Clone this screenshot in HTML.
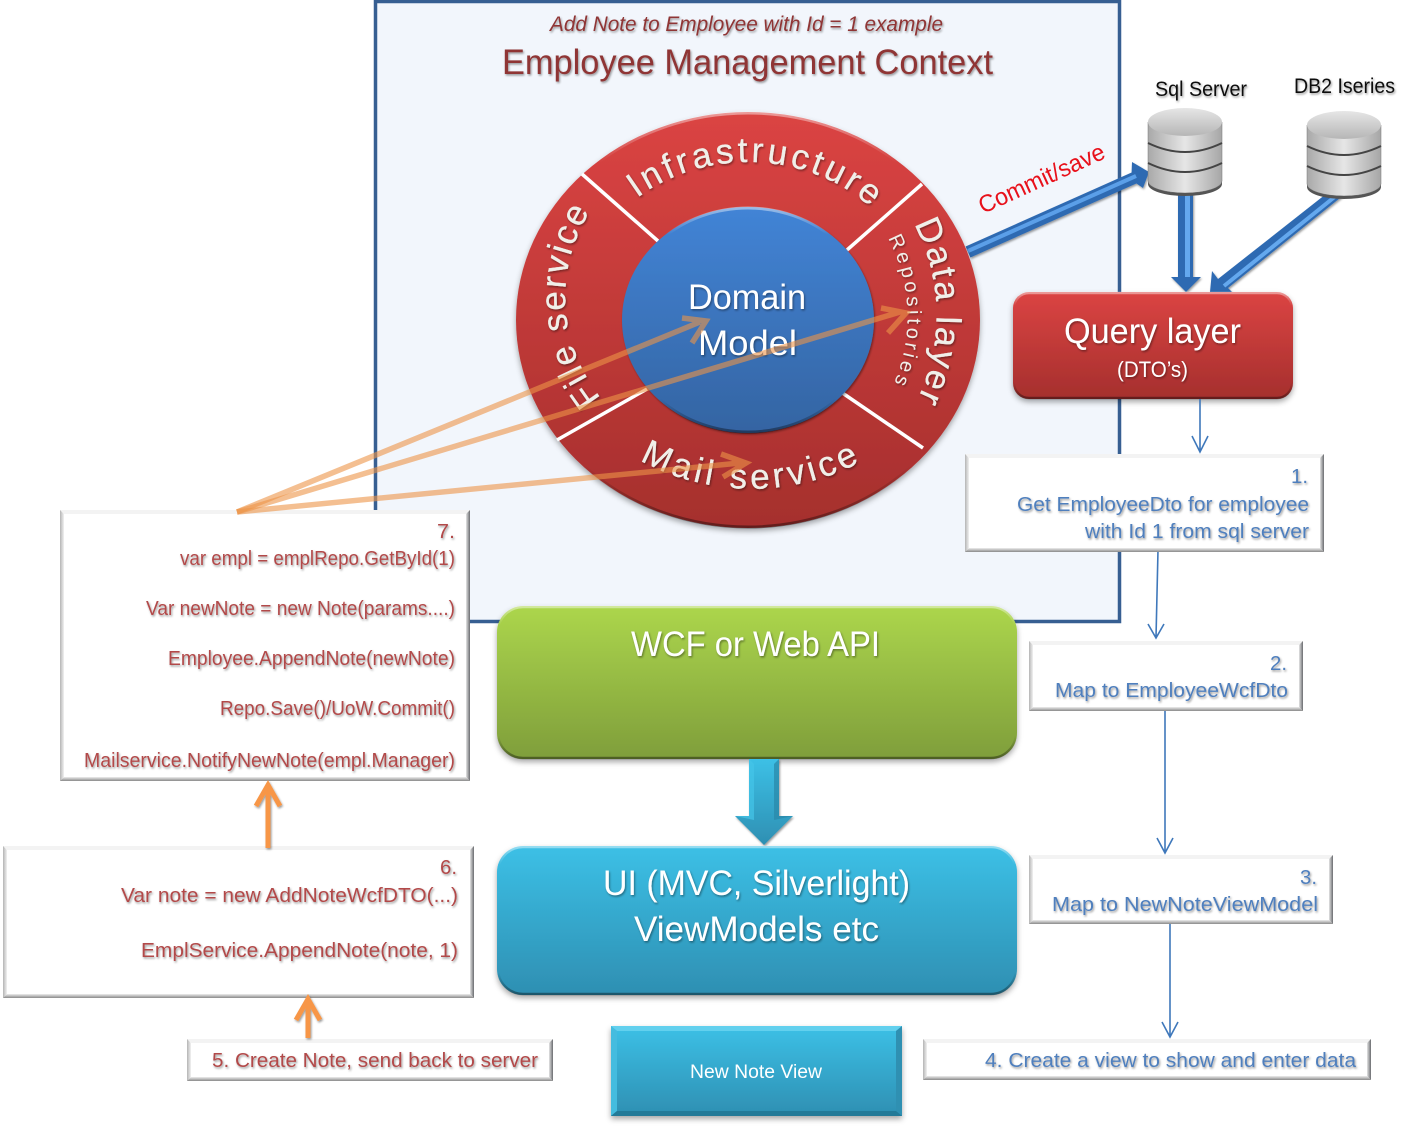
<!DOCTYPE html>
<html><head><meta charset="utf-8"><style>
html,body{margin:0;padding:0;background:#fff}
svg{display:block}
text{font-family:"Liberation Sans",sans-serif}
.r{fill:#b24a4a;font-size:20px}
.b{fill:#4f7fbd;font-size:20px}
.w{fill:#fff}
.t{fill:#8f3535}
.k{fill:#111;font-size:21px}
.bt{fill:#f3f3f3}.bl{fill:url(#gl)}.br{fill:url(#gr)}.bb{fill:url(#gb)}
.c{fill:#f0efe9;font-size:35px;stroke:#f0efe9;stroke-width:.3}
</style></head><body>
<svg width="1420" height="1128" viewBox="0 0 1420 1128" xmlns="http://www.w3.org/2000/svg">
<defs>
<linearGradient id="red" x1="0" y1="0" x2="0" y2="1"><stop offset="0" stop-color="#db4443"/><stop offset="1" stop-color="#a52f2d"/></linearGradient>
<linearGradient id="blue" x1="0" y1="0" x2="0" y2="1"><stop offset="0" stop-color="#4284d6"/><stop offset="1" stop-color="#3464a2"/></linearGradient>
<linearGradient id="green" x1="0" y1="0" x2="0" y2="1"><stop offset="0" stop-color="#acd64c"/><stop offset="1" stop-color="#7f9e3b"/></linearGradient>
<linearGradient id="cy" x1="0" y1="0" x2="0" y2="1"><stop offset="0" stop-color="#3cc0e6"/><stop offset="1" stop-color="#2e8fb2"/></linearGradient>
<linearGradient id="dbb" x1="0" y1="0" x2="1" y2="0"><stop offset="0" stop-color="#a9a9a9"/><stop offset=".5" stop-color="#e6e6e6"/><stop offset="1" stop-color="#a6a6a6"/></linearGradient>
<linearGradient id="dbt" x1="0" y1="0" x2="0" y2="1"><stop offset="0" stop-color="#e6e6e6"/><stop offset="1" stop-color="#b6b6b6"/></linearGradient>
<linearGradient id="gl" x1="0" y1="0" x2="1" y2="0"><stop offset="0" stop-color="#b4b4b4"/><stop offset="1" stop-color="#f2f2f2"/></linearGradient>
<linearGradient id="gr" x1="0" y1="0" x2="1" y2="0"><stop offset="0" stop-color="#e4e4e4"/><stop offset="1" stop-color="#6a6c70"/></linearGradient>
<linearGradient id="gb" x1="0" y1="0" x2="0" y2="1"><stop offset="0" stop-color="#eeeeee"/><stop offset="1" stop-color="#8a8a8a"/></linearGradient>
<linearGradient id="rim" x1="0" y1="0" x2="0" y2="1"><stop offset="0" stop-color="#fff" stop-opacity=".45"/><stop offset=".12" stop-color="#fff" stop-opacity="0"/><stop offset=".85" stop-color="#000" stop-opacity="0"/><stop offset="1" stop-color="#000" stop-opacity=".4"/></linearGradient>
<filter id="s" x="-10%" y="-30%" width="120%" height="170%"><feDropShadow dx="1" dy="1.5" stdDeviation="1" flood-color="#000" flood-opacity=".4"/></filter>
<filter id="sb" x="-10%" y="-10%" width="120%" height="125%"><feDropShadow dx="0" dy="3" stdDeviation="3" flood-color="#000" flood-opacity=".35"/></filter>
<g id="db">
<path d="M0 14V73A37 12 0 0 0 74 73V14Z" fill="url(#dbb)" stroke="#777" stroke-width=".5"/>
<path d="M0 73A37 12 0 0 0 74 73L74 76A37 12 0 0 1 0 76Z" fill="#555"/>
<ellipse cx="37" cy="14" rx="37" ry="14" fill="url(#dbt)"/>
<path d="M0 35Q37 53 74 35M0 55Q37 73 74 55" fill="none" stroke="#444" stroke-width="2"/>
</g>
<path id="pI" d="M637 198A175 158 0 0 1 892 230"/>
<path id="pD" d="M914 224A195 195 0 0 1 906 420"/>
<path id="pR" d="M888 238A160 165 0 0 1 890 392"/>
<path id="pM" d="M640 460A201 170 0 0 0 872 455"/>
<path id="pF" d="M601 398A160 160 0 0 1 598 200"/>
</defs>
<rect width="1420" height="1128" fill="#fff"/>

<!-- context -->
<rect x="375.5" y="1.5" width="744" height="620" fill="#f2f6fc" stroke="#375f92" stroke-width="3.5"/>
<text class="t" x="550" y="31" font-size="21" font-style="italic" textLength="393" lengthAdjust="spacingAndGlyphs" filter="url(#s)">Add Note to Employee with Id = 1 example</text>
<text class="t" x="502" y="74" font-size="35" textLength="491" lengthAdjust="spacingAndGlyphs" filter="url(#s)">Employee Management Context</text>

<!-- thick blue arrows -->
<g>
<path d="M965.6 246.5L1131.6 172.5 1132 162 1149 172 1143 188 1136.4 183.5 970.4 257.5Z" fill="#2f6bb2" filter="url(#s)"/>
<path d="M968 251L1136 176" stroke="#5b9fe8" stroke-width="4" fill="none"/>
<path d="M1178 193H1193V277H1201L1186 292 1171 277H1178Z" fill="#2f6bb2" filter="url(#s)"/>
<rect x="1185" y="193" width="5" height="84" fill="#64a8ee"/>
<path d="M1326 194H1345L1228 288 1232 292H1210L1212 271 1218 279Z" fill="#2f6bb2" filter="url(#s)"/>
<path d="M1337 195L1224 286" stroke="#64a8ee" stroke-width="4" fill="none"/>
</g>

<!-- ring -->
<ellipse cx="748" cy="320" rx="232" ry="208" fill="url(#red)" filter="url(#sb)"/>
<ellipse cx="748" cy="320" rx="231" ry="207" fill="none" stroke="url(#rim)" stroke-width="3"/>
<path d="M582 174L658 241M922 184L847 250M557 440L647 389M923 448L841 392" stroke="#fff" stroke-width="3.5"/>
<ellipse cx="748" cy="320" rx="126" ry="113" fill="url(#blue)" filter="url(#s)"/>
<ellipse cx="748" cy="320" rx="125" ry="112" fill="none" stroke="url(#rim)" stroke-width="3"/>
<text class="c" letter-spacing="3.5" filter="url(#s)"><textPath href="#pI">Infrastructure</textPath></text>
<text class="c" letter-spacing="2.4" filter="url(#s)"><textPath href="#pD">Data layer</textPath></text>
<text class="c" style="font-size:20px;stroke-width:0" letter-spacing="3.5" filter="url(#s)"><textPath href="#pR">Repositories</textPath></text>
<text class="c" letter-spacing="4" filter="url(#s)"><textPath href="#pM">Mail service</textPath></text>
<text class="c" letter-spacing="2" filter="url(#s)"><textPath href="#pF">File service</textPath></text>
<text class="w" x="688" y="309" font-size="35" textLength="118" lengthAdjust="spacingAndGlyphs" filter="url(#s)">Domain</text>
<text class="w" x="698" y="355" font-size="35" textLength="99" lengthAdjust="spacingAndGlyphs" filter="url(#s)">Model</text>

<!-- commit -->
<text transform="translate(983 214) rotate(-24.5)" fill="#e8101a" font-size="24" textLength="136" lengthAdjust="spacingAndGlyphs">Commit/save</text>

<!-- DBs -->
<use href="#db" x="1148" y="108"/>
<use href="#db" x="1307" y="111"/>
<text class="k" x="1155" y="96" textLength="92" lengthAdjust="spacingAndGlyphs" filter="url(#s)">Sql Server</text>
<text class="k" x="1294" y="93" textLength="101" lengthAdjust="spacingAndGlyphs" filter="url(#s)">DB2 Iseries</text>

<!-- query -->
<rect x="1013" y="292" width="280" height="107" rx="16" fill="url(#red)" filter="url(#sb)"/>
<rect x="1014" y="293" width="278" height="105" rx="15" fill="none" stroke="url(#rim)" stroke-width="2.5"/>
<text class="w" x="1064" y="343" font-size="35" textLength="177" lengthAdjust="spacingAndGlyphs" filter="url(#s)">Query layer</text>
<text class="w" x="1117" y="377" font-size="22" textLength="71" lengthAdjust="spacingAndGlyphs" filter="url(#s)">(DTO’s)</text>

<!-- thin arrows -->
<g fill="none" stroke="#3f78bb" stroke-width="1.6">
<path d="M1200 399V452M1192 436L1200 452 1208 436"/>
<path d="M1158 550L1156 638M1148 624L1156 638 1164 624"/>
<path d="M1165 711V853M1157 838L1165 853 1173 838"/>
<path d="M1170 924V1037M1162 1022L1170 1037 1178 1022"/>
</g>

<!-- WCF / UI -->
<rect x="497" y="606" width="520" height="153" rx="26" fill="url(#green)" filter="url(#sb)"/>
<rect x="498" y="607" width="518" height="151" rx="25" fill="none" stroke="url(#rim)" stroke-width="2.5"/>
<text class="w" x="631" y="656" font-size="35" textLength="249" lengthAdjust="spacingAndGlyphs" filter="url(#s)">WCF or Web API</text>
<path d="M749 759H779V816H793L764 845 735 816H749Z" fill="url(#cy)" filter="url(#s)"/>
<path d="M749 759L754 764V820L735 816H749Z" fill="#45c4e8" opacity=".7"/>
<path d="M779 759L774 764V820L793 816H779Z" fill="#2a88a8" opacity=".7"/>
<rect x="497" y="846" width="520" height="149" rx="26" fill="url(#cy)" filter="url(#sb)"/>
<rect x="498" y="847" width="518" height="147" rx="25" fill="none" stroke="url(#rim)" stroke-width="2.5"/>
<text class="w" x="603" y="895" font-size="35" textLength="307" lengthAdjust="spacingAndGlyphs" filter="url(#s)">UI (MVC, Silverlight)</text>
<text class="w" x="634" y="941" font-size="35" textLength="245" lengthAdjust="spacingAndGlyphs" filter="url(#s)">ViewModels etc</text>

<!-- new note view -->
<rect x="611" y="1026" width="291" height="90" fill="url(#cy)" filter="url(#sb)"/>
<path d="M611 1026H902L896 1031H617Z" fill="#62d0ee"/>
<path d="M611 1026L617 1031V1111L611 1116Z" fill="#44bcdf"/>
<path d="M902 1026L896 1031V1111L902 1116Z" fill="#2f90b2"/>
<path d="M611 1116L617 1111H896L902 1116Z" fill="#237a98"/>
<text class="w" x="690" y="1078" font-size="19" textLength="132" lengthAdjust="spacingAndGlyphs">New Note View</text>

<!-- box 1 -->
<rect x="965" y="454" width="359" height="98" fill="#fff"/>
<path class="bt" d="M965 454H1324L1320 458H969Z"/><path class="bl" d="M965 454L969 458V548L965 552Z"/><path class="br" d="M1324 454L1320 458V548L1324 552Z"/><path class="bb" d="M965 552L969 548H1320L1324 552Z"/>
<text class="b" x="1291" y="483" textLength="17" lengthAdjust="spacingAndGlyphs" filter="url(#s)">1.</text>
<text class="b" x="1017" y="511" textLength="292" lengthAdjust="spacingAndGlyphs" filter="url(#s)">Get EmployeeDto for employee</text>
<text class="b" x="1085" y="538" textLength="224" lengthAdjust="spacingAndGlyphs" filter="url(#s)">with Id 1 from sql server</text>

<!-- box 2 -->
<rect x="1029" y="641" width="274" height="70" fill="#fff"/>
<path class="bt" d="M1029 641H1303L1299 645H1033Z"/><path class="bl" d="M1029 641L1033 645V707L1029 711Z"/><path class="br" d="M1303 641L1299 645V707L1303 711Z"/><path class="bb" d="M1029 711L1033 707H1299L1303 711Z"/>
<text class="b" x="1270" y="670" textLength="17" lengthAdjust="spacingAndGlyphs" filter="url(#s)">2.</text>
<text class="b" x="1055" y="697" textLength="233" lengthAdjust="spacingAndGlyphs" filter="url(#s)">Map to EmployeeWcfDto</text>

<!-- box 3 -->
<rect x="1029" y="855" width="304" height="69" fill="#fff"/>
<path class="bt" d="M1029 855H1333L1329 859H1033Z"/><path class="bl" d="M1029 855L1033 859V920L1029 924Z"/><path class="br" d="M1333 855L1329 859V920L1333 924Z"/><path class="bb" d="M1029 924L1033 920H1329L1333 924Z"/>
<text class="b" x="1300" y="884" textLength="17" lengthAdjust="spacingAndGlyphs" filter="url(#s)">3.</text>
<text class="b" x="1052" y="911" textLength="266" lengthAdjust="spacingAndGlyphs" filter="url(#s)">Map to NewNoteViewModel</text>

<!-- box 4 -->
<rect x="923" y="1039" width="448" height="41" fill="#fff"/>
<path class="bt" d="M923 1039H1371L1367 1043H927Z"/><path class="bl" d="M923 1039L927 1043V1076L923 1080Z"/><path class="br" d="M1371 1039L1367 1043V1076L1371 1080Z"/><path class="bb" d="M923 1080L927 1076H1367L1371 1080Z"/>
<text class="b" x="985" y="1067" textLength="371" lengthAdjust="spacingAndGlyphs" filter="url(#s)">4. Create a view to show and enter data</text>

<!-- box 5 -->
<rect x="187" y="1039" width="366" height="42" fill="#fff"/>
<path class="bt" d="M187 1039H553L549 1043H191Z"/><path class="bl" d="M187 1039L191 1043V1077L187 1081Z"/><path class="br" d="M553 1039L549 1043V1077L553 1081Z"/><path class="bb" d="M187 1081L191 1077H549L553 1081Z"/>
<text class="r" x="212" y="1067" textLength="326" lengthAdjust="spacingAndGlyphs" filter="url(#s)">5. Create Note, send back to server</text>

<!-- box 6 -->
<rect x="3" y="846" width="471" height="152" fill="#fff"/>
<path class="bt" d="M3 846H474L470 850H7Z"/><path class="bl" d="M3 846L7 850V994L3 998Z"/><path class="br" d="M474 846L470 850V994L474 998Z"/><path class="bb" d="M3 998L7 994H470L474 998Z"/>
<text class="r" x="440" y="874" textLength="17" lengthAdjust="spacingAndGlyphs" filter="url(#s)">6.</text>
<text class="r" x="121" y="902" textLength="337" lengthAdjust="spacingAndGlyphs" filter="url(#s)">Var note = new AddNoteWcfDTO(...)</text>
<text class="r" x="141" y="957" textLength="317" lengthAdjust="spacingAndGlyphs" filter="url(#s)">EmplService.AppendNote(note, 1)</text>

<!-- box 7 -->
<rect x="60" y="510" width="410" height="271" fill="#fff"/>
<path class="bt" d="M60 510H470L466 514H64Z"/><path class="bl" d="M60 510L64 514V777L60 781Z"/><path class="br" d="M470 510L466 514V777L470 781Z"/><path class="bb" d="M60 781L64 777H466L470 781Z"/>
<text class="r" x="437" y="538" textLength="18" lengthAdjust="spacingAndGlyphs" filter="url(#s)">7.</text>
<text class="r" x="180" y="565" textLength="275" lengthAdjust="spacingAndGlyphs" filter="url(#s)">var empl = emplRepo.GetById(1)</text>
<text class="r" x="146" y="615" textLength="309" lengthAdjust="spacingAndGlyphs" filter="url(#s)">Var newNote = new Note(params....)</text>
<text class="r" x="168" y="665" textLength="287" lengthAdjust="spacingAndGlyphs" filter="url(#s)">Employee.AppendNote(newNote)</text>
<text class="r" x="220" y="715" textLength="235" lengthAdjust="spacingAndGlyphs" filter="url(#s)">Repo.Save()/UoW.Commit()</text>
<text class="r" x="84" y="767" textLength="371" lengthAdjust="spacingAndGlyphs" filter="url(#s)">Mailservice.NotifyNewNote(empl.Manager)</text>

<!-- orange up arrows -->
<g fill="none" stroke="#f79646" stroke-width="5" filter="url(#s)">
<path d="M268 848V786M256 806L268 785 280 806"/>
<path d="M308 1038V1000M296 1020L308 999 320 1020"/>
</g>

<!-- translucent orange lines -->
<g fill="none" stroke="#ed9447" stroke-width="5.5" stroke-opacity=".6" stroke-linejoin="miter">
<path d="M237 512L700 322M682 318L706 321 692 343"/>
<path d="M237 512L900 312M881 308L906 313 888 333"/>
<path d="M237 512L740 463M721 454L746 463 723 477"/>
</g>
</svg>
</body></html>
